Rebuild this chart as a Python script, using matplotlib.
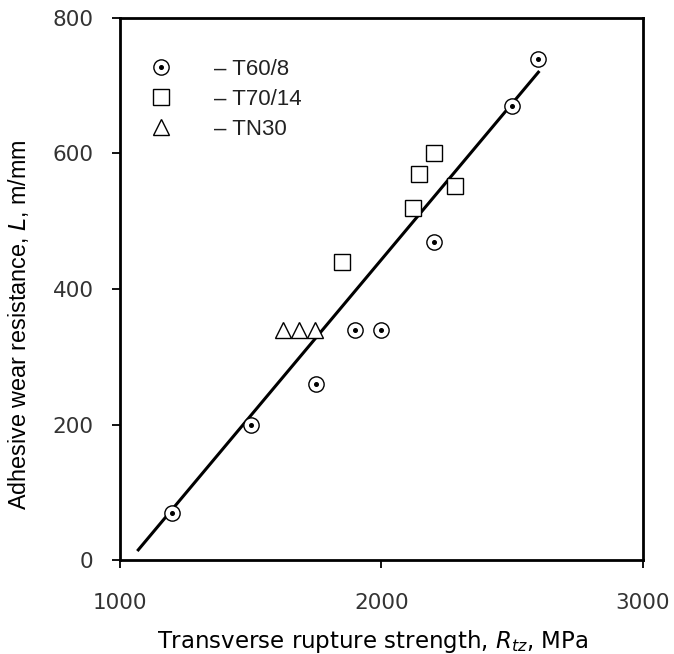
import numpy as np
import matplotlib
matplotlib.use("Agg")
import matplotlib.pyplot as plt
from matplotlib.legend_handler import HandlerTuple

# T60/8
t60_x = [1200, 1500, 1750, 1900, 2000, 2200, 2500, 2600]
t60_y = [70, 200, 260, 340, 340, 470, 670, 740]
# T70/14
t70_x = [1850, 2120, 2145, 2200, 2280]
t70_y = [440, 520, 570, 600, 552]
# TN30
tn30_x = [1625, 1685, 1745]
tn30_y = [340, 340, 340]
# trend line
fit_x = [1070, 2600]
fit_y = [15, 720]

x_ticks = [1000, 2000, 3000]
y_ticks = [0, 200, 400, 600, 800]

plt.rcParams['mathtext.fontset'] = 'dejavusans'

fig = plt.figure(figsize=(6.74, 6.54), dpi=100)
ax = fig.add_axes([0.178, 0.1437, 0.776, 0.8288])

ax.plot(fit_x, fit_y, color="black", lw=2.2, zorder=2)

ms_kw = dict(ls="none", mec="black", mfc="white", mew=1.0, zorder=3)
h_c, = ax.plot(t60_x, t60_y, marker="o", ms=11, **ms_kw)
h_d, = ax.plot(t60_x, t60_y, marker="o", ms=2.6, ls="none", color="black", zorder=4)
h_s, = ax.plot(t70_x, t70_y, marker="s", ms=12, **ms_kw)
h_t, = ax.plot(tn30_x, tn30_y, marker="^", ms=12, **ms_kw)

ax.set_xlim(1000, 3000)
ax.set_ylim(0, 800)
ax.set_xticks(x_ticks)
ax.set_yticks(y_ticks)
ax.tick_params(direction="out", length=6, width=1.3, labelsize=15.5,
               labelcolor="#333333")
ax.tick_params(axis="x", pad=18)
ax.tick_params(axis="y", pad=13)
for s in ax.spines.values():
    s.set_linewidth(2)

ax.set_xlabel(r"Transverse rupture strength, $R_{tz}$, MPa", fontsize=16.5,
              family="DejaVu Sans", labelpad=8)
ax.set_ylabel(r"Adhesive wear resistance, $\mathit{L}$, m/mm", fontsize=16.8,
              family="Liberation Sans")
ax.xaxis.set_label_coords(0.483, -0.125)
ax.yaxis.set_label_coords(-0.17, 0.434)

leg = ax.legend([(h_c, h_d), h_s, h_t], ["\u2013 T60/8", "\u2013 T70/14", "\u2013 TN30"],
                handler_map={tuple: HandlerTuple(ndivide=1, pad=0)},
                loc="upper left", bbox_to_anchor=(0.005, 0.965), frameon=False,
                prop={"family": "Liberation Sans", "size": 16},
                handlelength=1.5, handletextpad=1.6, labelspacing=0.4,
                borderpad=0.5)
for t in leg.get_texts():
    t.set_color("#222222")

fig.savefig("out.png", dpi=100)
